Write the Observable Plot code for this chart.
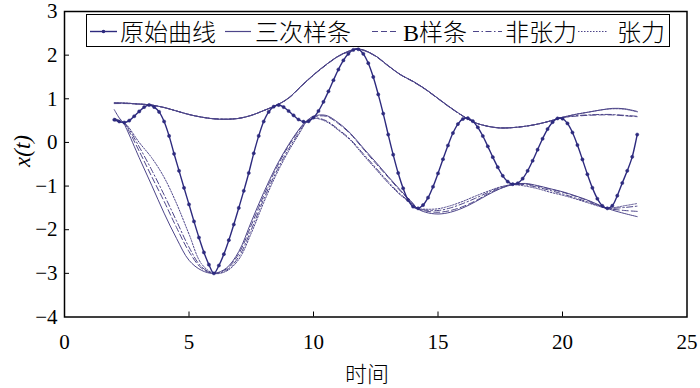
<!DOCTYPE html>
<html><head><meta charset="utf-8">
<script src="https://cdn.jsdelivr.net/npm/d3@7"></script>
<script src="https://cdn.jsdelivr.net/npm/@observablehq/plot@0.6"></script>
<style>
body{margin:0;background:#fff;}
#wrap{position:relative;width:700px;height:388px;overflow:hidden;}
.lbl{position:absolute;white-space:nowrap;line-height:1;color:#000;}
#legend{position:absolute;left:86px;top:14px;width:584px;height:33px;box-sizing:border-box;border:1.5px solid #000;background:#fff;}
.item-text{position:absolute;top:19px;font-size:24px;line-height:24px;white-space:nowrap;}
</style></head>
<body><div id="wrap"></div>
<script>
// ---------- data ----------
const tOriginal = [2.0,2.2,2.4,2.6,2.8,3.0,3.2,3.4,3.6,3.8,4.0,4.2,4.4,4.6,4.8,5.0,5.2,5.4,5.6,5.8,6.0,6.2,6.4,6.6,6.8,7.0,7.2,7.4,7.6,7.8,8.0,8.2,8.4,8.6,8.8,9.0,9.2,9.4,9.6,9.8,10.0,10.2,10.4,10.6,10.8,11.0,11.2,11.4,11.6,11.8,12.0,12.2,12.4,12.6,12.8,13.0,13.2,13.4,13.6,13.8,14.0,14.2,14.4,14.6,14.8,15.0,15.2,15.4,15.6,15.8,16.0,16.2,16.4,16.6,16.8,17.0,17.2,17.4,17.6,17.8,18.0,18.2,18.4,18.6,18.8,19.0,19.2,19.4,19.6,19.8,20.0,20.2,20.4,20.6,20.8,21.0,21.2,21.4,21.6,21.8,22.0,22.2,22.4,22.6,22.8,23.0];
const xOriginal = [0.52,0.48,0.456,0.50,0.60,0.71,0.81,0.858,0.81,0.70,0.48,0.15,-0.26,-0.65,-1.04,-1.42,-1.81,-2.18,-2.52,-2.80,-3.00,-2.82,-2.56,-2.24,-1.88,-1.50,-1.11,-0.70,-0.25,0.15,0.48,0.70,0.82,0.857,0.81,0.72,0.62,0.525,0.475,0.484,0.57,0.72,0.93,1.17,1.425,1.67,1.88,2.03,2.12,2.135,2.03,1.815,1.50,1.10,0.66,0.18,-0.28,-0.70,-1.05,-1.32,-1.47,-1.51,-1.435,-1.265,-1.015,-0.71,-0.385,-0.07,0.215,0.42,0.537,0.555,0.487,0.346,0.147,-0.09,-0.337,-0.568,-0.765,-0.898,-0.957,-0.935,-0.83,-0.65,-0.42,-0.166,0.084,0.306,0.465,0.55,0.545,0.435,0.227,-0.06,-0.39,-0.73,-1.04,-1.29,-1.454,-1.51,-1.45,-1.22,-0.93,-0.65,-0.33,0.18];

const tUpper = [2.0,2.5,3.0,3.45,4.0,4.5,5.0,5.5,6.0,6.5,7.0,7.5,8.0,8.54,9.0,9.5,10.0,10.5,11.0,11.5,11.73,12.0,12.5,13.0,13.5,14.0,14.5,15.0,15.5,16.13,16.5,17.0,17.5,18.0,18.5,19.0,19.5,19.9,20.5,21.0,21.5,22.0,22.5,23.0];
const upperCubic       = [0.91,0.90,0.88,0.86,0.80,0.72,0.64,0.58,0.54,0.53,0.55,0.62,0.73,0.86,1.02,1.29,1.55,1.78,1.98,2.11,2.14,2.12,1.98,1.76,1.55,1.40,1.22,1.01,0.80,0.56,0.45,0.37,0.33,0.34,0.37,0.42,0.49,0.56,0.64,0.69,0.74,0.78,0.77,0.71];
const upperB           = [0.89,0.89,0.875,0.86,0.80,0.72,0.64,0.58,0.545,0.535,0.555,0.62,0.73,0.86,1.01,1.28,1.54,1.77,1.97,2.10,2.14,2.11,1.97,1.75,1.55,1.39,1.21,1.00,0.79,0.56,0.45,0.37,0.335,0.34,0.37,0.42,0.49,0.56,0.60,0.62,0.63,0.63,0.61,0.59];
const upperNonTension  = [0.90,0.895,0.878,0.86,0.80,0.72,0.64,0.58,0.542,0.532,0.552,0.62,0.73,0.86,1.015,1.285,1.545,1.775,1.975,2.105,2.14,2.115,1.975,1.755,1.55,1.395,1.215,1.005,0.795,0.56,0.45,0.37,0.332,0.34,0.37,0.42,0.49,0.56,0.61,0.63,0.64,0.64,0.62,0.60];
const upperTension     = [0.905,0.90,0.88,0.86,0.80,0.72,0.64,0.58,0.54,0.53,0.55,0.62,0.73,0.86,1.02,1.29,1.55,1.78,1.98,2.11,2.14,2.12,1.98,1.76,1.55,1.40,1.22,1.01,0.80,0.56,0.45,0.37,0.33,0.34,0.37,0.42,0.49,0.56,0.64,0.69,0.74,0.77,0.76,0.70];

const tLower = [2.0,2.2,2.36,2.5,3.0,3.5,4.0,4.5,5.0,5.5,6.0,6.5,7.0,7.5,8.0,8.5,9.0,9.5,9.68,10.0,10.5,11.0,11.5,12.0,12.5,13.0,13.5,14.0,14.16,14.5,15.0,15.5,16.0,16.5,17.0,17.5,18.05,18.5,19.0,19.5,20.0,20.5,21.0,21.5,21.8,22.0,22.5,23.0];
const lowerCubic      = [0.75,0.56,0.455,0.30,-0.35,-0.98,-1.62,-2.2,-2.7,-2.93,-3.0,-2.88,-2.5,-1.82,-1.15,-0.55,-0.05,0.36,0.47,0.60,0.62,0.45,0.2,-0.13,-0.45,-0.78,-1.1,-1.4,-1.51,-1.6,-1.64,-1.6,-1.5,-1.36,-1.2,-1.06,-0.96,-0.94,-0.99,-1.06,-1.13,-1.22,-1.32,-1.44,-1.51,-1.55,-1.63,-1.7];
const lowerB          = [0.55,0.5,0.455,0.35,-0.2,-0.78,-1.35,-1.95,-2.5,-2.88,-3.0,-2.9,-2.55,-1.9,-1.22,-0.6,-0.08,0.34,0.46,0.58,0.6,0.43,0.18,-0.15,-0.48,-0.8,-1.12,-1.41,-1.51,-1.57,-1.6,-1.56,-1.47,-1.34,-1.18,-1.05,-0.96,-0.95,-1.0,-1.07,-1.14,-1.23,-1.33,-1.45,-1.51,-1.53,-1.56,-1.58];
const lowerNonTension = [0.55,0.5,0.455,0.38,-0.1,-0.63,-1.2,-1.8,-2.4,-2.85,-3.0,-2.93,-2.62,-2.0,-1.3,-0.68,-0.15,0.3,0.45,0.56,0.5,0.3,0.06,-0.26,-0.58,-0.9,-1.19,-1.42,-1.51,-1.55,-1.56,-1.5,-1.4,-1.28,-1.15,-1.03,-0.96,-0.97,-1.03,-1.1,-1.18,-1.27,-1.36,-1.46,-1.51,-1.51,-1.49,-1.46];
const lowerTension    = [0.5,0.47,0.455,0.4,0.0,-0.35,-0.8,-1.4,-2.1,-2.78,-3.0,-2.95,-2.68,-2.08,-1.38,-0.74,-0.2,0.27,0.44,0.55,0.48,0.28,0.04,-0.29,-0.61,-0.93,-1.21,-1.43,-1.51,-1.53,-1.52,-1.45,-1.35,-1.23,-1.12,-1.02,-0.97,-1.0,-1.06,-1.14,-1.21,-1.29,-1.38,-1.47,-1.51,-1.5,-1.45,-1.4];

const seriesNames = ["原始曲线","三次样条","B样条","非张力","张力"];
const xTicks = [0,5,10,15,20,25];
const yTicks = [-4,-3,-2,-1,0,1,2,3];
const xLabel = "时间";

// ---------- styles ----------
const SERIF = "'Liberation Serif', 'Times New Roman', serif";
const CJK = "'Noto Sans CJK SC', sans-serif";
const origColor = "#2d2a7e";
const envColor = "#4d4589";
const dashes = [null, null, "6,3", "6,2.5,1.5,2.5", "1.5,1.5"];
const intFmt = d3.format("d");

const zip = (ts, vs) => ts.map((t, i) => ({t, v: vs[i]}));
const orig = zip(tOriginal, xOriginal);
const envelopes = [
  [zip(tUpper, upperCubic), zip(tLower, lowerCubic), 1],
  [zip(tUpper, upperB), zip(tLower, lowerB), 2],
  [zip(tUpper, upperNonTension), zip(tLower, lowerNonTension), 3],
  [zip(tUpper, upperTension), zip(tLower, lowerTension), 4]
];
const envMarks = [];
for (const [up, lo, k] of envelopes) {
  for (const d of [up, lo]) {
    envMarks.push(Plot.line(d, {x: "t", y: "v", stroke: envColor, strokeWidth: 1, strokeDasharray: dashes[k], curve: "catmull-rom"}));
  }
}

const chart = Plot.plot({
  width: 700, height: 388,
  marginLeft: 64, marginRight: 13.5, marginTop: 11, marginBottom: 71.5,
  style: {fontFamily: SERIF, fontSize: "21px", color: "#000", background: "transparent", overflow: "visible"},
  x: {domain: [0, 25]},
  y: {domain: [-4, 3]},
  marks: [
    ...envMarks,
    Plot.line(orig, {x: "t", y: "v", stroke: origColor, strokeWidth: 1.4, curve: "catmull-rom"}),
    Plot.dot(orig, {x: "t", y: "v", r: 1.6, fill: origColor, stroke: origColor, strokeWidth: 0.5}),
    Plot.axisX({ticks: xTicks, tickSize: 0, tickPadding: 17, tickFormat: intFmt, label: null}),
    Plot.axisX({ticks: xTicks.slice(1, -1), tickSize: -5, tickFormat: () => "", label: null}),
    Plot.axisY({ticks: yTicks, tickSize: 0, tickPadding: 7, tickFormat: intFmt, label: null}),
    Plot.axisY({ticks: yTicks.slice(1, -1), tickSize: -5, tickFormat: () => "", label: null}),
    Plot.frame({stroke: "#000", strokeWidth: 1.5})
  ]
});
chart.querySelectorAll("g[aria-label*='axis']").forEach(g => {
  g.setAttribute("font-family", SERIF);
  g.style.fontFamily = SERIF;
});
chart.querySelectorAll("text").forEach(t => {
  t.setAttribute("font-family", SERIF);
  t.style.fontFamily = SERIF;
  t.style.fontSize = "21px";
});
const wrap = document.getElementById("wrap");
wrap.appendChild(chart);

// axis titles
const xl = document.createElement("div");
xl.className = "lbl";
xl.style.cssText = "font-family:" + CJK + ";font-weight:300;font-size:22px;left:367px;top:372px;transform:translate(-50%,-50%);";
xl.textContent = xLabel;
wrap.appendChild(xl);
const yl = document.createElement("div");
yl.className = "lbl";
yl.style.cssText = "font-family:" + SERIF + ";font-size:23px;font-style:italic;left:22px;top:151px;transform:translate(-50%,-50%) rotate(-90deg);";
yl.textContent = "x(t)";
wrap.appendChild(yl);

// legend
const legend = document.createElement("div");
legend.id = "legend";
wrap.appendChild(legend);
const samplePos = [[90,117],[225,251],[372,398],[473,502],[578,607]];
const textPos = [120,255,403,505,617];
const svgNS = "http://www.w3.org/2000/svg";
const lsvg = document.createElementNS(svgNS, "svg");
lsvg.setAttribute("width", 700); lsvg.setAttribute("height", 60);
lsvg.style.cssText = "position:absolute;left:0;top:0;pointer-events:none;";
seriesNames.forEach((name, i) => {
  const [a, b] = samplePos[i];
  const ln = document.createElementNS(svgNS, "line");
  ln.setAttribute("x1", a); ln.setAttribute("x2", b);
  ln.setAttribute("y1", 31.5); ln.setAttribute("y2", 31.5);
  ln.setAttribute("stroke", i === 0 ? origColor : envColor);
  ln.setAttribute("stroke-width", i === 0 ? 1.4 : 1.2);
  if (dashes[i]) ln.setAttribute("stroke-dasharray", dashes[i]);
  lsvg.appendChild(ln);
  if (i === 0) {
    const c = document.createElementNS(svgNS, "circle");
    c.setAttribute("cx", (a + b) / 2); c.setAttribute("cy", 31.5); c.setAttribute("r", 1.8);
    c.setAttribute("fill", origColor);
    lsvg.appendChild(c);
  }
  const tx = document.createElement("div");
  tx.className = "item-text";
  tx.style.left = textPos[i] + "px";
  tx.style.fontFamily = SERIF;
  const parts = name.split(/([\u4e00-\u9fff]+)/).filter(s => s.length);
  for (const p of parts) {
    const s = document.createElement("span");
    s.textContent = p;
    if (/[\u4e00-\u9fff]/.test(p)) { s.style.fontFamily = CJK; s.style.fontWeight = "300"; }
    else s.style.fontFamily = SERIF;
    tx.appendChild(s);
  }
  wrap.appendChild(tx);
});
wrap.appendChild(lsvg);
</script>
</body></html>
